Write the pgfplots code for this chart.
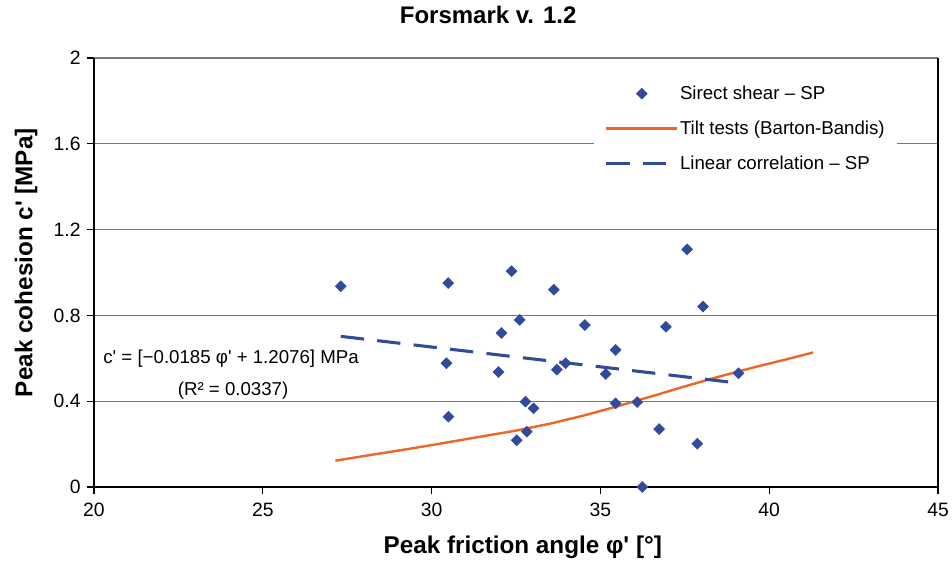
\documentclass[border=0pt]{standalone}
\usepackage{pgfplots}
\pgfplotsset{compat=1.18}
\usepackage{fontspec}
\setmainfont{Liberation Sans}

\definecolor{ptblue}{RGB}{50,74,154}
\definecolor{tiltorange}{RGB}{238,102,38}
\definecolor{gridgray}{RGB}{120,120,120}

\newcommand{\q}{\textquotesingle}

% direct shear tests, single joints (phi' in degrees, c' in MPa)
\pgfplotstableread{
phi    c
27.31  0.936
30.49  0.951
32.37  1.006
33.62  0.920
32.61  0.779
34.54  0.755
32.07  0.718
30.44  0.577
31.98  0.536
33.71  0.547
33.97  0.577
32.78  0.398
33.02  0.367
30.50  0.328
32.82  0.258
32.52  0.218
37.57  1.108
38.04  0.841
36.94  0.747
35.45  0.639
35.16  0.527
39.09  0.530
35.45  0.390
36.09  0.396
36.74  0.270
37.87  0.202
36.24  0.000
}\shear

% tilt tests, Barton-Bandis envelope
\pgfplotstableread{
phi    c
27.15  0.123
28.50  0.157
29.50  0.182
30.50  0.209
31.50  0.236
32.50  0.263
33.50  0.295
34.50  0.333
35.50  0.376
36.50  0.422
37.50  0.469
38.50  0.514
39.50  0.556
40.50  0.595
41.30  0.627
}\tilt

% c' = -0.0185 phi' + 1.2076
\pgfplotstableread{
phi    c
27.31  0.7024
38.89  0.4881
}\fit

\pgfplotsset{
  legimg/.style={legend image code/.code={%
    \draw[mark repeat=2,mark phase=2,##1] plot coordinates {(0pt,0pt) (26.5pt,0pt) (53pt,0pt)};}},
}

\begin{document}
\begin{tikzpicture}
\useasboundingbox (-70.5pt,-56.25pt) rectangle (643.5pt,365.25pt);
\begin{axis}[
  at={(0pt,0pt)}, anchor=south west,
  scale only axis, width=633pt, height=321.75pt,
  xmin=20, xmax=45, ymin=0, ymax=2,
  axis x line*=bottom, axis y line*=box,
  axis line style={black, line width=0.8pt, -},
  xtick={20,25,30,35,40,45},
  xticklabels={20,25,30,35,40,45},
  ytick={0,0.4,0.8,1.2,1.6,2},
  yticklabels={0,0.4,0.8,1.2,1.6,2},
  ytick pos=left, xtick pos=bottom,
  tick align=outside,
  major tick length=5.5pt,
  tick style={black, line width=0.8pt},
  ymajorgrids,
  major grid style={gridgray, line width=0.9pt},
  tick label style={font=\fontsize{14.5}{17}\selectfont},
  xticklabel style={yshift=-3pt},
  yticklabel style={xshift=-1pt},
  xlabel={Peak friction angle φ\q{} [°]},
  ylabel={Peak cohesion c\q{} [MPa]},
  label style={font=\bfseries\fontsize{18.2}{21}\selectfont},
  xlabel style={at={(axis description cs:0.508,0)}, anchor=center, yshift=-45pt},
  ylabel style={at={(axis description cs:0,0.523)}, anchor=center, yshift=51pt},
  title={Forsmark v. 1.2},
  title style={font=\bfseries\fontsize{18}{21}\selectfont,
    at={(axis description cs:0.467,1)}, anchor=center, yshift=26.5pt},
  clip=false,
  legend cell align=left,
  legend style={at={(axis description cs:0.5924,0.948)}, anchor=north west,
    draw=none, fill=white, inner xsep=8pt, inner ysep=2pt,
    font=\fontsize{14}{16}\selectfont, row sep=10.5pt,
    nodes={inner xsep=1pt}},
]
\addplot[only marks, mark=square*, mark size=2.9pt,
  mark options={rotate=45, fill=ptblue, draw=ptblue}, legimg]
  table[x=phi, y=c] {\shear};
\addlegendentry{Sirect shear – SP}

\addplot[tiltorange, line width=1.8pt, no marks, line join=round, legimg]
  table[x=phi, y=c] {\tilt};
\addlegendentry{Tilt tests (Barton-Bandis)}

\addplot[ptblue, line width=2.3pt, no marks, dash pattern=on 17.5pt off 10pt, legimg]
  table[x=phi, y=c] {\fit};
\addlegendentry{Linear correlation – SP}

\node[anchor=west, inner sep=0pt, font=\fontsize{14}{16}\selectfont] at (axis cs:20.27,0.597)
  {c\q{} = [−0.0185 φ\q{} + 1.2076] MPa};
\node[anchor=center, inner sep=0pt, font=\fontsize{14}{16}\selectfont] at (axis cs:24.12,0.448)
  {(R² = 0.0337)};
\end{axis}
\end{tikzpicture}
\end{document}
